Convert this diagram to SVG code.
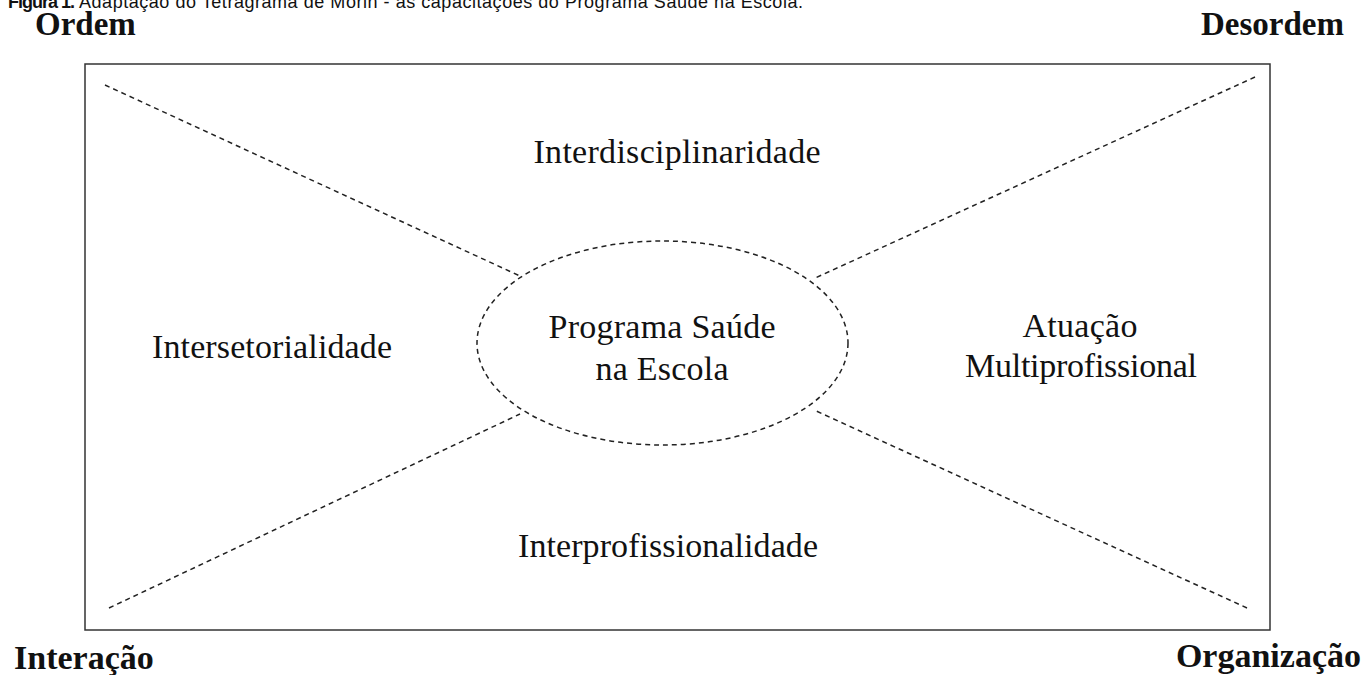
<svg xmlns="http://www.w3.org/2000/svg" width="1366" height="675" viewBox="0 0 1366 675">
  <style>
    .cap { font-family: "Liberation Sans", Arial, sans-serif; font-size: 18px; fill: #111; }
    .corner { font-family: "Liberation Serif", "Times New Roman", serif; font-weight: bold; fill: #111; }
    .top { font-size: 33px; }
    .bottom { font-size: 34px; }
    .lbl { font-family: "Liberation Serif", "Times New Roman", serif; font-size: 34px; fill: #111; text-anchor: middle; }
    .dash { fill: none; stroke: #222; stroke-width: 1.5; stroke-dasharray: 5 4; }
  </style>
  <rect width="1366" height="675" fill="#ffffff"/>
  <g id="caption">
    <text class="cap" x="8" y="8" font-weight="bold" textLength="67">Figura 1.</text>
    <text class="cap" x="79" y="8" textLength="724">Adaptação do Tetragrama de Morin - as capacitações do Programa Saúde na Escola.</text>
  </g>
  <g id="corners">
    <text class="corner top" x="35" y="35">Ordem</text>
    <text class="corner top" x="1344" y="35" text-anchor="end">Desordem</text>
    <text class="corner bottom" x="14" y="669">Interação</text>
    <text class="corner bottom" x="1361" y="667" text-anchor="end">Organização</text>
  </g>
  <g id="frame">
    <rect x="85" y="64" width="1185" height="566" fill="none" stroke="#333" stroke-width="1.5"/>
  </g>
  <g id="connectors">
    <line class="dash" x1="105" y1="85" x2="520" y2="276"/>
    <line class="dash" x1="1255" y1="77" x2="813" y2="279"/>
    <line class="dash" x1="109" y1="608" x2="520" y2="414"/>
    <line class="dash" x1="1247" y1="608" x2="814" y2="410"/>
  </g>
  <g id="center">
    <ellipse class="dash" cx="662.5" cy="343" rx="185.5" ry="102"/>
    <text class="lbl" x="662" y="338" textLength="227">Programa Saúde</text>
    <text class="lbl" x="662" y="380" textLength="133">na Escola</text>
  </g>
  <g id="interdisciplinaridade">
    <text class="lbl" x="677" y="163" textLength="287">Interdisciplinaridade</text>
  </g>
  <g id="intersetorialidade">
    <text class="lbl" x="272" y="358" textLength="240">Intersetorialidade</text>
  </g>
  <g id="atuacao">
    <text class="lbl" x="1080" y="337" textLength="115">Atuação</text>
    <text class="lbl" x="1081" y="377" textLength="232">Multiprofissional</text>
  </g>
  <g id="interprofissionalidade">
    <text class="lbl" x="668" y="557" textLength="300">Interprofissionalidade</text>
  </g>
</svg>
